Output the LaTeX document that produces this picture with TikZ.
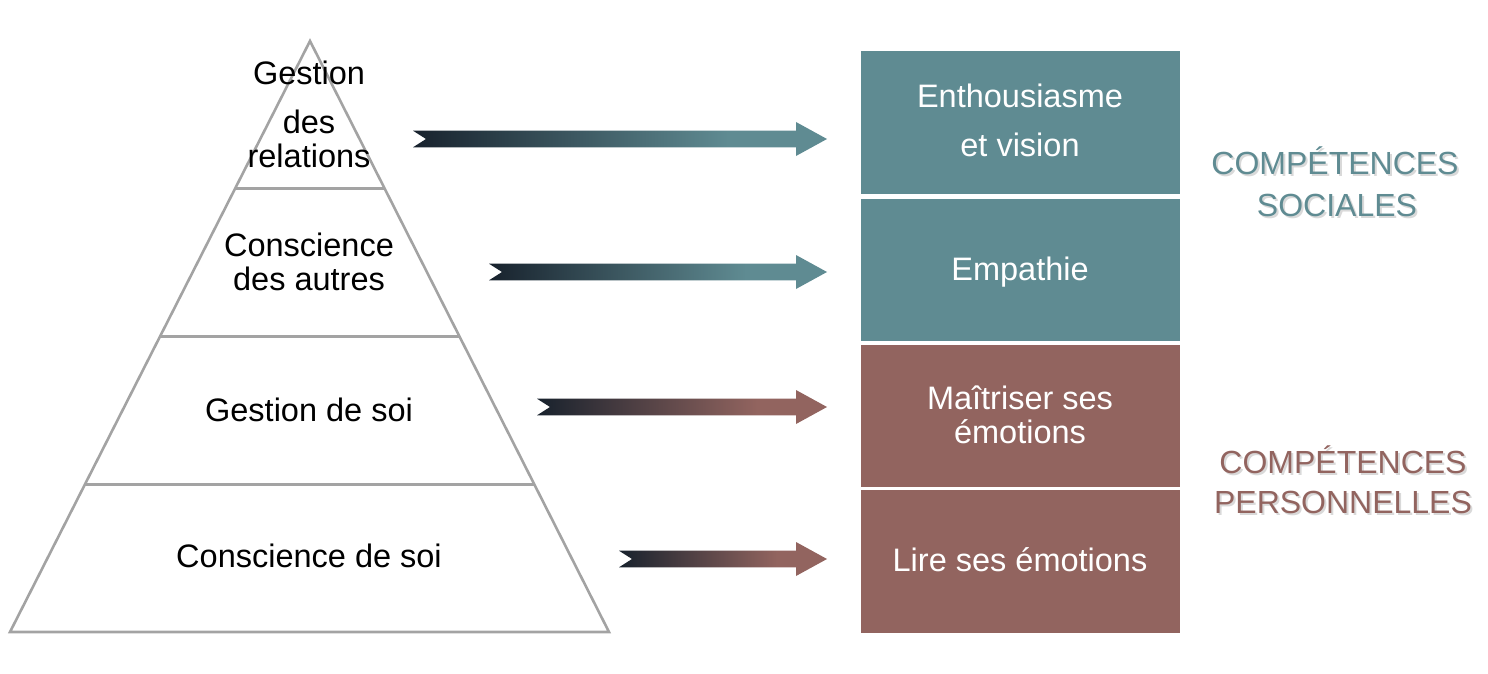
\documentclass[tikz,border=0pt]{standalone}
\usepackage{fontspec}
\setmainfont{Liberation Sans}
\usetikzlibrary{calc}
\definecolor{tealc}{HTML}{5F8B92}
\definecolor{brownc}{HTML}{92645F}
\definecolor{darkc}{HTML}{18222D}
\definecolor{pyrc}{HTML}{A3A3A3}
\pgfdeclarehorizontalshading{tealgrad}{100bp}{color(0bp)=(darkc); color(25bp)=(darkc); color(63bp)=(tealc); color(100bp)=(tealc)}
\pgfdeclarehorizontalshading{browngrad}{100bp}{color(0bp)=(darkc); color(25bp)=(darkc); color(63bp)=(brownc); color(100bp)=(brownc)}
\newcommand{\gradarrow}[3]{%
  \shade[shading=#3]
    ($(#1)+(0,-8.3)$) -- ($(#2)+(-31,-8.3)$) -- ($(#2)+(-31,-17)$) -- (#2)
    -- ($(#2)+(-31,17)$) -- ($(#2)+(-31,8.3)$) -- ($(#1)+(0,8.3)$)
    -- ($(#1)+(13,0)$) -- cycle;}
\begin{document}
\begin{tikzpicture}[x=1pt,y=-1pt,
  txt/.style={font=\fontsize{32.5}{34}\selectfont, inner sep=0pt, anchor=base},
  boxc/.style={inner sep=0pt, anchor=north west, minimum width=319pt},
  pyrline/.style={draw=pyrc, line width=2.6pt},
  head/.style={txt, font=\fontsize{32}{34}\selectfont}]
\useasboundingbox (0,0) rectangle (1488,674);
% pyramid
\coordinate (apex) at (310,41);
\coordinate (bl) at (10,632);
\coordinate (br) at (609,632);
\draw[pyrline, line join=miter] (bl) -- (apex) -- (br) -- cycle;
\draw[pyrline] ($(apex)!0.25!(bl)$) -- ($(apex)!0.25!(br)$);
\draw[pyrline] ($(apex)!0.5!(bl)$) -- ($(apex)!0.5!(br)$);
\draw[pyrline] ($(apex)!0.75!(bl)$) -- ($(apex)!0.75!(br)$);
\node[txt] (p1a) at (309,85) {Gestion};
\node[txt] (p1b) at (309,134) {des};
\node[txt] (p1c) at (309,167) {relations};
\node[txt] (p2a) at (309,256) {Conscience};
\node[txt] (p2b) at (309,290) {des autres};
\node[txt] (p3) at (309,421) {Gestion de soi};
\node[txt] (p4) at (309,567) {Conscience de soi};
% boxes
\node[boxc, fill=tealc, minimum height=143pt] (b1) at (861,51) {};
\node[boxc, fill=tealc, minimum height=142pt] (b2) at (861,199) {};
\node[boxc, fill=brownc, minimum height=142pt] (b3) at (861,345) {};
\node[boxc, fill=brownc, minimum height=143pt] (b4) at (861,490) {};
\node[txt, text=white] (t1a) at (1020,108) {Enthousiasme};
\node[txt, text=white] (t1b) at (1020,157) {et vision};
\node[txt, text=white] (t2) at (1020,280) {Empathie};
\node[txt, text=white] (t3a) at (1020,409) {Maîtriser ses};
\node[txt, text=white] (t3b) at (1020,443) {émotions};
\node[txt, text=white] (t4) at (1020,571) {Lire ses émotions};
% arrows
\coordinate (a1s) at (413,139); \coordinate (a1e) at (827,139);
\coordinate (a2s) at (489,272); \coordinate (a2e) at (827,272);
\coordinate (a3s) at (537,407); \coordinate (a3e) at (827,407);
\coordinate (a4s) at (619,559); \coordinate (a4e) at (827,559);
\gradarrow{a1s}{a1e}{tealgrad}
\gradarrow{a2s}{a2e}{tealgrad}
\gradarrow{a3s}{a3e}{browngrad}
\gradarrow{a4s}{a4e}{browngrad}
% headings with soft shadow
\begin{scope}[opacity=0.3]
\node[head, text=gray] at (1337,176) {COMPÉTENCES};
\node[head, text=gray] at (1339,218) {SOCIALES};
\node[head, text=gray] at (1345,475) {COMPÉTENCES};
\node[head, text=gray] at (1345,515) {PERSONNELLES};
\end{scope}
\node[head, text=tealc] (h1a) at (1335,174) {COMPÉTENCES};
\node[head, text=tealc] (h1b) at (1337,216) {SOCIALES};
\node[head, text=brownc] (h2a) at (1343,473) {COMPÉTENCES};
\node[head, text=brownc] (h2b) at (1343,513) {PERSONNELLES};
\end{tikzpicture}
\end{document}
